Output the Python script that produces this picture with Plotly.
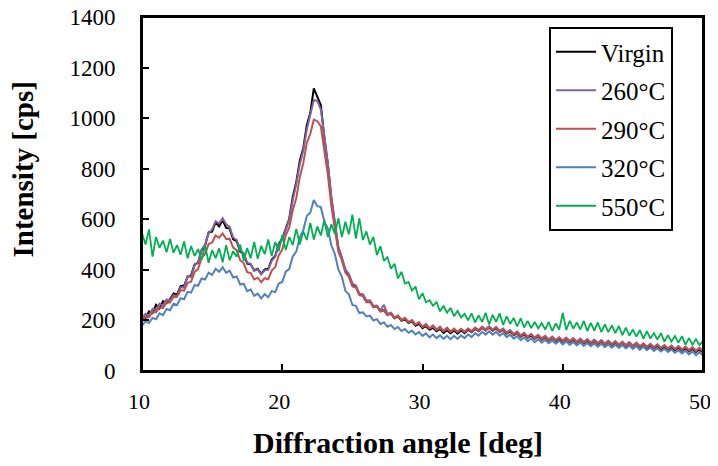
import plotly.graph_objects as go

# Diffraction angle grid (deg): first angle and step of the scan
angle_start = 10.0
angle_step = 0.25

series_names = ["Virgin", "260°C", "290°C", "320°C", "550°C"]

virgin = [
    222, 208, 236, 229, 262, 247, 276, 268,
    284, 307, 302, 336, 338, 372, 378, 421,
    428, 478, 496, 548, 551, 589, 572, 598,
    566, 563, 521, 514, 472, 463, 425, 422,
    398, 404, 384, 402, 404, 441, 455, 503,
    524, 568, 602, 688, 748, 832, 881, 972,
    1021, 1118, 1086, 1052, 924, 818, 683, 582,
    484, 446, 398, 381, 344, 334, 303, 301,
    276, 277, 254, 256, 236, 241, 222, 227,
    209, 216, 199, 205, 190, 196, 179, 186,
    169, 178, 163, 171, 157, 166, 151, 161,
    149, 160, 148, 161, 150, 163, 153, 167,
    157, 171, 160, 172, 159, 169, 154, 163,
    148, 157, 142, 151, 136, 146, 132, 141,
    128, 138, 124, 134, 120, 131, 118, 128,
    116, 127, 114, 125, 112, 123, 110, 121,
    108, 119, 106, 117, 104, 115, 102, 113,
    100, 111, 98, 109, 96, 107, 94, 104,
    91, 102, 89, 100, 86, 97, 84, 95,
    82, 93, 80, 90, 77, 88, 75, 85,
    73,
]

t260 = [
    210, 226, 219, 245, 241, 266, 258, 283,
    279, 300, 296, 331, 330, 376, 372, 418,
    430, 482, 500, 545, 560, 592, 583, 604,
    580, 570, 528, 518, 478, 466, 428, 424,
    396, 402, 382, 398, 400, 436, 452, 498,
    520, 562, 598, 676, 740, 818, 872, 955,
    1010, 1072, 1068, 1035, 930, 822, 690, 588,
    492, 450, 402, 384, 346, 338, 306, 304,
    279, 280, 257, 259, 239, 262, 226, 231,
    212, 219, 203, 209, 194, 200, 184, 191,
    174, 182, 168, 176, 162, 170, 157, 166,
    155, 165, 154, 166, 156, 168, 158, 172,
    162, 176, 165, 177, 164, 174, 159, 168,
    153, 162, 147, 156, 141, 151, 137, 146,
    133, 143, 129, 139, 125, 136, 123, 133,
    121, 132, 119, 130, 117, 128, 115, 126,
    113, 124, 111, 122, 109, 120, 107, 118,
    105, 116, 103, 114, 101, 112, 99, 109,
    96, 107, 94, 105, 91, 102, 89, 100,
    87, 98, 85, 95, 82, 93, 80, 90,
    78,
]

t290 = [
    200, 214, 212, 234, 232, 252, 249, 272,
    271, 294, 293, 319, 318, 349, 353, 392,
    404, 447, 463, 502, 508, 536, 527, 544,
    522, 523, 488, 478, 438, 427, 391, 387,
    362, 369, 351, 367, 363, 397, 411, 457,
    481, 537, 568, 637, 683, 767, 822, 902,
    938, 994, 988, 968, 872, 778, 652, 568,
    473, 437, 389, 372, 334, 330, 300, 296,
    272, 273, 252, 255, 235, 240, 221, 229,
    210, 219, 200, 210, 192, 201, 183, 193,
    175, 186, 169, 180, 164, 175, 159, 171,
    156, 168, 154, 167, 154, 167, 156, 170,
    159, 173, 161, 174, 161, 172, 156, 166,
    150, 160, 144, 154, 138, 149, 134, 145,
    130, 141, 126, 137, 122, 134, 120, 132,
    118, 130, 116, 128, 114, 126, 112, 124,
    110, 122, 108, 120, 106, 118, 104, 116,
    102, 114, 100, 112, 98, 110, 96, 108,
    94, 106, 92, 104, 90, 102, 88, 100,
    86, 98, 84, 96, 82, 94, 80, 92,
    79,
]

t320 = [
    180, 196, 190, 210, 205, 228, 221, 245,
    240, 266, 261, 288, 284, 313, 310, 340,
    337, 366, 362, 389, 380, 404, 392, 410,
    388, 397, 370, 374, 342, 345, 316, 322,
    297, 306, 287, 304, 292, 316, 312, 346,
    352, 393, 404, 453, 472, 528, 557, 613,
    627, 676, 652, 648, 592, 563, 497, 463,
    402, 373, 317, 303, 261, 258, 229, 232,
    216, 219, 200, 205, 186, 192, 175, 182,
    166, 174, 158, 166, 151, 160, 145, 154,
    139, 149, 133, 144, 130, 141, 127, 139,
    126, 139, 127, 141, 130, 145, 134, 150,
    140, 155, 144, 157, 144, 155, 140, 150,
    134, 144, 128, 138, 122, 133, 118, 129,
    114, 125, 112, 123, 110, 121, 108, 119,
    105, 117, 103, 115, 101, 113, 99, 111,
    98, 109, 96, 108, 94, 106, 92, 104,
    91, 103, 89, 101, 87, 99, 84, 96,
    82, 93, 79, 90, 77, 88, 75, 85,
    72, 82, 69, 80, 66, 77, 63, 74,
    61,
]

t550 = [
    545, 500, 560, 452, 530, 488, 515, 470,
    522, 468, 498, 460, 512, 446, 494, 455,
    482, 440, 496, 428, 478, 446, 485, 430,
    498, 438, 474, 452, 500, 436, 486, 446,
    510, 444, 495, 462, 520, 455, 510, 474,
    538, 478, 530, 498, 562, 500, 552, 518,
    586, 520, 572, 536, 596, 530, 580, 542,
    604, 530, 590, 540, 618, 524, 604, 518,
    552, 500, 530, 458, 494, 436, 450, 404,
    424, 366, 392, 346, 352, 318, 334, 284,
    308, 272, 280, 258, 272, 236, 258, 230,
    250, 216, 238, 212, 226, 200, 228, 192,
    220, 194, 230, 184, 222, 194, 228, 182,
    216, 186, 210, 176, 208, 172, 198, 170,
    194, 168, 190, 164, 194, 158, 188, 164,
    230, 162, 198, 168, 192, 164, 198, 158,
    190, 160, 192, 154, 184, 154, 180, 150,
    178, 142, 172, 140, 164, 136, 162, 128,
    158, 128, 150, 124, 150, 116, 142, 116,
    138, 112, 138, 104, 130, 104, 126, 102,
    118,
]

x_ticks = [10, 20, 30, 40, 50]
y_ticks = [0, 200, 400, 600, 800, 1000, 1200, 1400]

all_series = [virgin, t260, t290, t320, t550]
for s in all_series:
    assert len(s) == 161, len(s)

colors = ["#000000", "#8064A2", "#C0504D", "#4F81BD", "#00B050"]
widths = [2.0, 2.0, 2.0, 2.0, 1.8]

SERIF = "Liberation Serif"

fig = go.Figure()
for i, (name, vals, col, w) in enumerate(zip(series_names, all_series, colors, widths)):
    fig.add_trace(go.Scatter(
        y=vals, x0=angle_start, dx=angle_step,
        mode="lines", name=name,
        line=dict(color=col, width=w),
        legendgroup=f"g{i}",
    ))

# The page body has an 8px margin; the figure is sized so that figure plus
# margins exactly fill the 718x466 window (no scrollbars).  Pixel targets
# below are window coordinates.
OFF = 8
W, H = 718 - 2 * OFF, 466 - 2 * OFF
PL, PR, PT, PB = 142, 703, 17, 371  # plot-area edges in window pixels
L, T = PL - OFF, PT - OFF
R, B = W - (PR - OFF), H - (PB - OFF)
pw, ph = PR - PL, PB - PT

def px_to_paper(px, py):
    return (px - PL) / pw, (PB - py) / ph

lg = px_to_paper(549, 27)
fig.update_layout(
    width=W, height=H,
    margin=dict(l=L, r=R, t=T, b=B, pad=0, autoexpand=False),
    paper_bgcolor="white", plot_bgcolor="white",
    font=dict(family=SERIF, size=22, color="black"),
    showlegend=True,
    legend=dict(
        x=lg[0], y=lg[1],
        xanchor="left", yanchor="top",
        bordercolor="black", borderwidth=2, bgcolor="white",
        font=dict(family=SERIF, size=25, color="black"),
        tracegroupgap=3,
        itemwidth=40,
    ),
    xaxis=dict(
        range=[10, 50], tickvals=x_ticks, ticktext=[str(v) for v in x_ticks],
        ticks="inside", ticklen=7, tickwidth=2, tickcolor="black",
        showline=True, linecolor="black", linewidth=2, mirror=True,
        showgrid=False, zeroline=False, automargin=False,
        tickfont=dict(family=SERIF, size=22, color="black"),
        ticklabelstandoff=10, ticklabeloverflow="allow",
        ticklabelshift=-3,
    ),
    yaxis=dict(
        range=[0, 1400], tickvals=y_ticks, ticktext=[str(v) for v in y_ticks],
        ticks="inside", ticklen=7, tickwidth=2, tickcolor="black",
        showline=True, linecolor="black", linewidth=2, mirror=True,
        showgrid=False, zeroline=False, automargin=False,
        tickfont=dict(family=SERIF, size=23, color="black"),
        ticklabelstandoff=20, ticklabeloverflow="allow",
    ),
)

# plot frame
fig.add_shape(
    type="rect", xref="paper", yref="paper", x0=0, y0=0, x1=1, y1=1,
    line=dict(color="black", width=2), layer="above",
)

xt = px_to_paper(398, 443)
yt = px_to_paper(22.5, 170)
fig.add_annotation(
    text="<b>Diffraction angle [deg]</b>", xref="paper", yref="paper",
    x=xt[0], y=xt[1], xanchor="center", yanchor="middle", showarrow=False,
    font=dict(family=SERIF, size=30, color="black"),
)
fig.add_annotation(
    text="<b>Intensity [cps]</b>", xref="paper", yref="paper",
    x=yt[0], y=yt[1], xanchor="center", yanchor="middle", showarrow=False,
    textangle=-90,
    font=dict(family=SERIF, size=29, color="black"),
)

fig.write_html("out.html")
